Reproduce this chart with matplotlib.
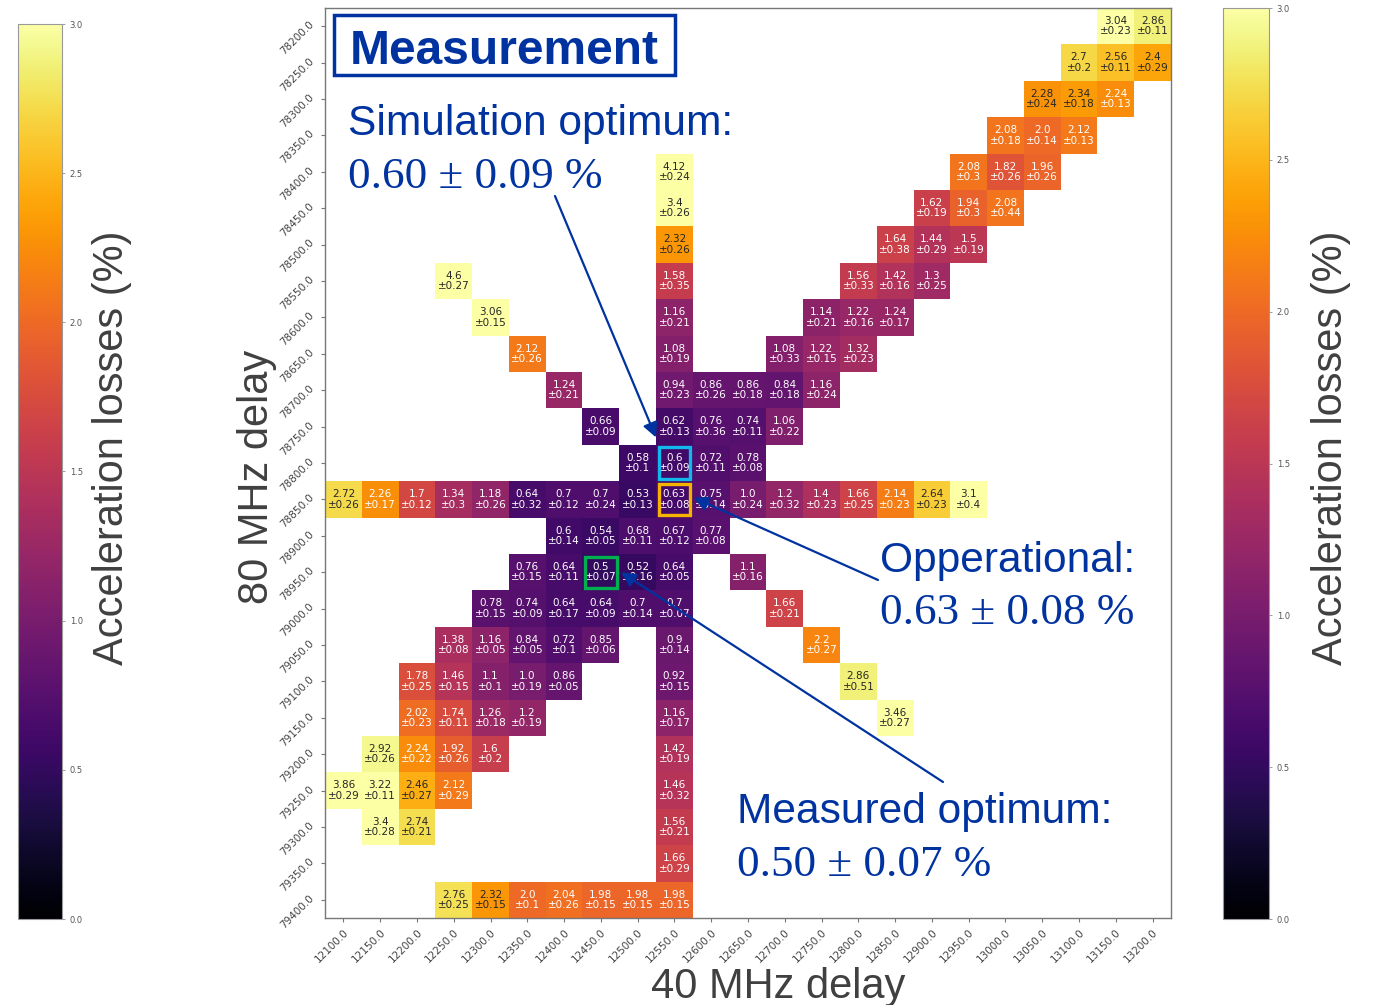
"""Acceleration-loss scan over the 40 MHz / 80 MHz cavity delays (measurement)."""
import numpy as np
import pandas as pd
import matplotlib
matplotlib.use("Agg")
import matplotlib.pyplot as plt
import seaborn as sns
from matplotlib.patches import Rectangle

# scan axes
delays_40 = np.arange(12100, 13201, 50)
delays_80 = np.arange(78200, 79401, 50)

# measured points, keyed by 80 MHz delay: 40 MHz delays, loss (%) and its error
scan_40 = {
    78200: [13150, 13200],
    78250: [13100, 13150, 13200],
    78300: [13050, 13100, 13150],
    78350: [13000, 13050, 13100],
    78400: [12550, 12950, 13000, 13050],
    78450: [12550, 12900, 12950, 13000],
    78500: [12550, 12850, 12900, 12950],
    78550: [12250, 12550, 12800, 12850, 12900],
    78600: [12300, 12550, 12750, 12800, 12850],
    78650: [12350, 12550, 12700, 12750, 12800],
    78700: [12400, 12550, 12600, 12650, 12700, 12750],
    78750: [12450, 12550, 12600, 12650, 12700],
    78800: [12500, 12550, 12600, 12650],
    78850: [12100, 12150, 12200, 12250, 12300, 12350, 12400, 12450, 12500,
            12550, 12600, 12650, 12700, 12750, 12800, 12850, 12900, 12950],
    78900: [12400, 12450, 12500, 12550, 12600],
    78950: [12350, 12400, 12450, 12500, 12550, 12650],
    79000: [12300, 12350, 12400, 12450, 12500, 12550, 12700],
    79050: [12250, 12300, 12350, 12400, 12450, 12550, 12750],
    79100: [12200, 12250, 12300, 12350, 12400, 12550, 12800],
    79150: [12200, 12250, 12300, 12350, 12550, 12850],
    79200: [12150, 12200, 12250, 12300, 12550],
    79250: [12100, 12150, 12200, 12250, 12550],
    79300: [12150, 12200, 12550],
    79350: [12550],
    79400: [12250, 12300, 12350, 12400, 12450, 12500, 12550],
}
loss = {
    78200: [3.04, 2.86],
    78250: [2.7, 2.56, 2.4],
    78300: [2.28, 2.34, 2.24],
    78350: [2.08, 2.0, 2.12],
    78400: [4.12, 2.08, 1.82, 1.96],
    78450: [3.4, 1.62, 1.94, 2.08],
    78500: [2.32, 1.64, 1.44, 1.5],
    78550: [4.6, 1.58, 1.56, 1.42, 1.3],
    78600: [3.06, 1.16, 1.14, 1.22, 1.24],
    78650: [2.12, 1.08, 1.08, 1.22, 1.32],
    78700: [1.24, 0.94, 0.86, 0.86, 0.84, 1.16],
    78750: [0.66, 0.62, 0.76, 0.74, 1.06],
    78800: [0.58, 0.6, 0.72, 0.78],
    78850: [2.72, 2.26, 1.7, 1.34, 1.18, 0.64, 0.7, 0.7, 0.53,
            0.63, 0.75, 1.0, 1.2, 1.4, 1.66, 2.14, 2.64, 3.1],
    78900: [0.6, 0.54, 0.68, 0.67, 0.77],
    78950: [0.76, 0.64, 0.5, 0.52, 0.64, 1.1],
    79000: [0.78, 0.74, 0.64, 0.64, 0.7, 0.7, 1.66],
    79050: [1.38, 1.16, 0.84, 0.72, 0.85, 0.9, 2.2],
    79100: [1.78, 1.46, 1.1, 1.0, 0.86, 0.92, 2.86],
    79150: [2.02, 1.74, 1.26, 1.2, 1.16, 3.46],
    79200: [2.92, 2.24, 1.92, 1.6, 1.42],
    79250: [3.86, 3.22, 2.46, 2.12, 1.46],
    79300: [3.4, 2.74, 1.56],
    79350: [1.66],
    79400: [2.76, 2.32, 2.0, 2.04, 1.98, 1.98, 1.98],
}
loss_err = {
    78200: [0.23, 0.11],
    78250: [0.2, 0.11, 0.29],
    78300: [0.24, 0.18, 0.13],
    78350: [0.18, 0.14, 0.13],
    78400: [0.24, 0.3, 0.26, 0.26],
    78450: [0.26, 0.19, 0.3, 0.44],
    78500: [0.26, 0.38, 0.29, 0.19],
    78550: [0.27, 0.35, 0.33, 0.16, 0.25],
    78600: [0.15, 0.21, 0.21, 0.16, 0.17],
    78650: [0.26, 0.19, 0.33, 0.15, 0.23],
    78700: [0.21, 0.23, 0.26, 0.18, 0.18, 0.24],
    78750: [0.09, 0.13, 0.36, 0.11, 0.22],
    78800: [0.1, 0.09, 0.11, 0.08],
    78850: [0.26, 0.17, 0.12, 0.3, 0.26, 0.32, 0.12, 0.24, 0.13,
            0.08, 0.14, 0.24, 0.32, 0.23, 0.25, 0.23, 0.23, 0.4],
    78900: [0.14, 0.05, 0.11, 0.12, 0.08],
    78950: [0.15, 0.11, 0.07, 0.16, 0.05, 0.16],
    79000: [0.15, 0.09, 0.17, 0.09, 0.14, 0.07, 0.21],
    79050: [0.08, 0.05, 0.05, 0.1, 0.06, 0.14, 0.27],
    79100: [0.25, 0.15, 0.1, 0.19, 0.05, 0.15, 0.51],
    79150: [0.23, 0.11, 0.18, 0.19, 0.17, 0.27],
    79200: [0.26, 0.22, 0.26, 0.2, 0.19],
    79250: [0.29, 0.11, 0.27, 0.29, 0.32],
    79300: [0.28, 0.21, 0.21],
    79350: [0.29],
    79400: [0.25, 0.15, 0.1, 0.26, 0.15, 0.15, 0.15],
}

# (80 MHz, 40 MHz) settings that get highlighted
sim_opt = (78800, 12550)
operational = (78850, 12550)
meas_opt = (78950, 12450)

grid = pd.DataFrame(np.nan, index=delays_80, columns=delays_40)
annot = pd.DataFrame("", index=delays_80, columns=delays_40)
for d80, cols in scan_40.items():
    for d40, v, e in zip(cols, loss[d80], loss_err[d80]):
        grid.loc[d80, d40] = v
        annot.loc[d80, d40] = f"{v}\n±{e}"

W, H = 1375, 1005


def fx(px):
    return px / W


def fy(py):
    return 1 - py / H


NAVY = "#0033a0"
GREY = "#404040"

fig = plt.figure(figsize=(W / 100, H / 100), dpi=100)
ax = fig.add_axes([fx(325), fy(918), (1171 - 325) / W, (918 - 8) / H])
cax_left = fig.add_axes([fx(18), fy(919), 44 / W, (919 - 24) / H])
cax_right = fig.add_axes([fx(1223), fy(919), 46 / W, (919 - 8) / H])

sns.heatmap(grid, ax=ax, cmap="inferno", vmin=0, vmax=3,
            annot=annot.values, fmt="",
            annot_kws={"fontsize": 7.5, "linespacing": 1.05},
            cbar_ax=cax_left,
            xticklabels=[f"{d:.1f}" for d in delays_40],
            yticklabels=[f"{d:.1f}" for d in delays_80])
cbar_left = ax.collections[0].colorbar
cbar_right = fig.colorbar(ax.collections[0], cax=cax_right)
for cb in (cbar_left, cbar_right):
    cb.outline.set_linewidth(0.8)
    cb.outline.set_edgecolor("#999999")
    cb.set_ticks(np.arange(0, 3.01, 0.5))
    cb.ax.tick_params(labelsize=6, length=2, width=0.5, colors="#777777",
                      labelcolor="#555555")

for s in ax.spines.values():
    s.set_visible(True)
    s.set_color("#777777")
    s.set_linewidth(1)
ax.tick_params(length=3, width=0.8, colors="#777777", labelcolor="#444444",
               labelsize=7.5)
plt.setp(ax.get_xticklabels(), rotation=45, ha="right", va="top",
         rotation_mode="anchor")
plt.setp(ax.get_yticklabels(), rotation=45, ha="right", va="bottom",
         rotation_mode="anchor")
ax.set_xlabel("")
ax.set_ylabel("")

# boxes round the highlighted settings
for (d80, d40), col in ((sim_opt, "#10b8ec"), (operational, "#f5b400"),
                        (meas_opt, "#00b050")):
    r = list(delays_80).index(d80)
    c = list(delays_40).index(d40)
    ax.add_patch(Rectangle((c + 0.07, r + 0.07), 0.86, 0.86, fill=False,
                           ec=col, lw=2.4, zorder=5))

# axis / colorbar titles
fig.text(fx(778), fy(998), "40 MHz delay", ha="center", va="baseline",
         fontsize=30, color=GREY, family="Liberation Sans")
fig.text(fx(257), fy(477), "80 MHz delay", ha="center", va="center",
         rotation=90, fontsize=30, color=GREY, family="Liberation Sans")
for x in (112, 1331):
    fig.text(fx(x), fy(448), "Acceleration losses (%)", ha="center",
             va="center", rotation=90, fontsize=30, color=GREY,
             family="Liberation Sans")

# title box
fig.patches.append(Rectangle((fx(334), fy(75)), (675 - 334) / W, 60 / H,
                             transform=fig.transFigure, fill=True, fc="white",
                             ec=NAVY, lw=2.5, zorder=3))
fig.text(fx(350), fy(64), "Measurement", ha="left", va="baseline",
         fontsize=34.5, fontweight="bold", color=NAVY, family="Liberation Sans",
         zorder=4)

notes = [
    (348, 135, 188, "Simulation optimum:", "0.60 ± 0.09 %"),
    (880, 572, 624, "Opperational:", "0.63 ± 0.08 %"),
    (737, 823, 876, "Measured optimum:", "0.50 ± 0.07 %"),
]
for x, y1, y2, head, value in notes:
    fig.text(fx(x), fy(y1), head, ha="left", va="baseline", fontsize=30.6,
             color=NAVY, family="Liberation Sans")
    fig.text(fx(x), fy(y2), value, ha="left", va="baseline", fontsize=32.5,
             color=NAVY, family="Liberation Serif")

arrow = dict(arrowstyle="-|>", color=NAVY, lw=1.6, mutation_scale=22,
             shrinkA=0, shrinkB=0)
for tip, tail in (((9.0, 11.8), (555, 196)),
                  ((10.02, 13.45), (878, 580)),
                  ((8.05, 15.5), (943, 782))):
    ax.annotate("", xy=tip, xycoords="data",
                xytext=(fx(tail[0]), fy(tail[1])), textcoords="figure fraction",
                arrowprops=arrow, annotation_clip=False, zorder=6)

fig.savefig("out.png", dpi=100)
